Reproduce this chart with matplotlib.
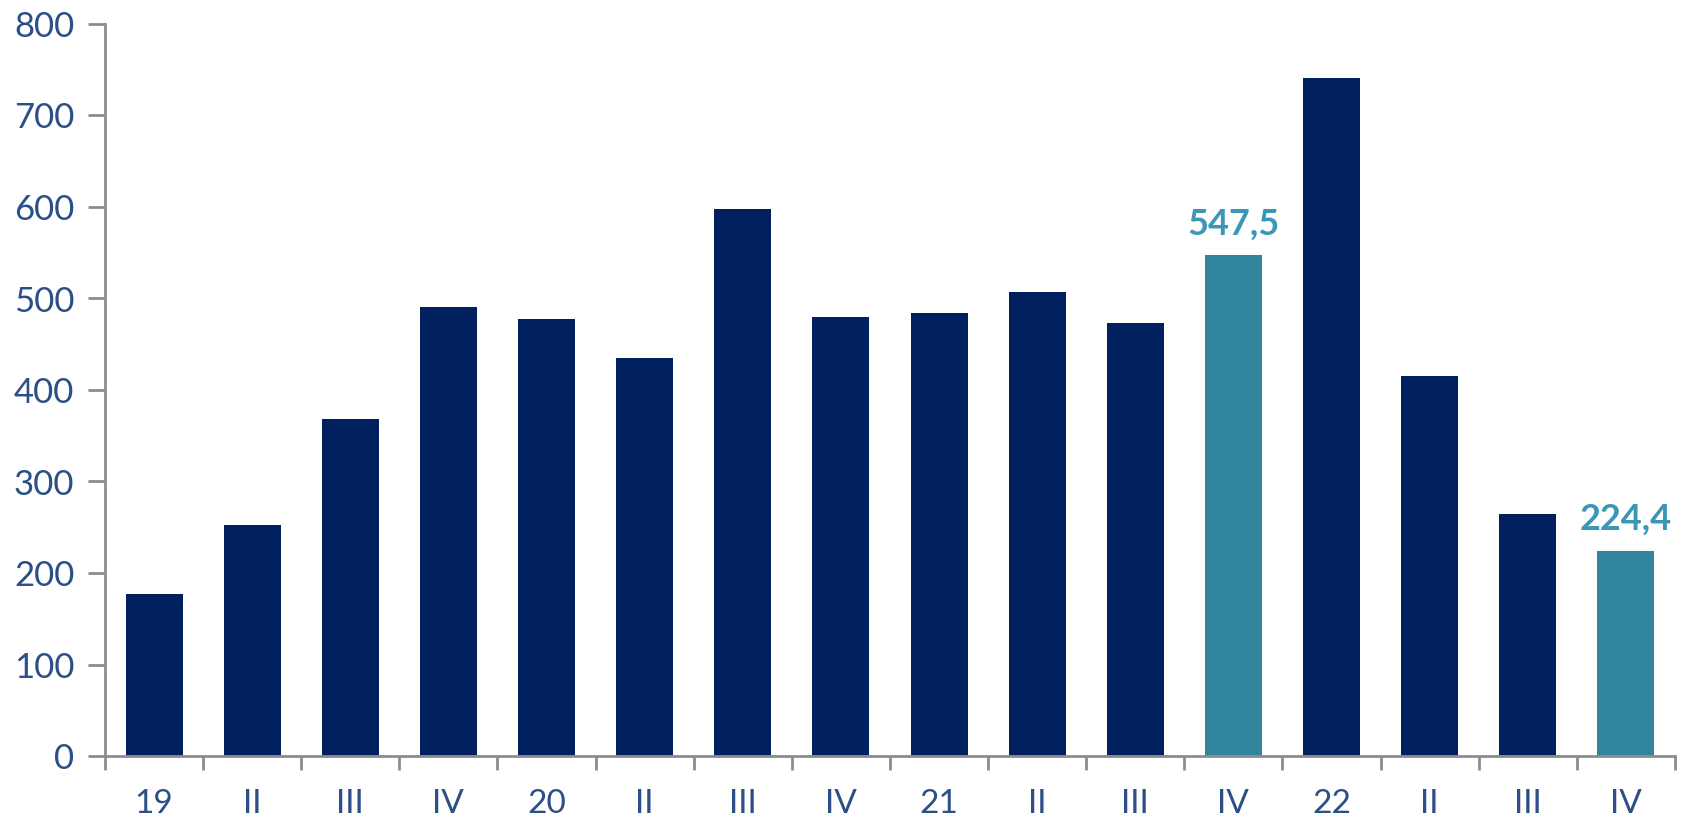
import matplotlib
matplotlib.use("Agg")
import matplotlib.pyplot as plt
import numpy as np

categories = ["19", "II", "III", "IV", "20", "II", "III", "IV", "21", "II", "III", "IV", "22", "II", "III", "IV"]
values = [177, 252, 368, 491, 478, 435, 598, 480, 484, 507, 473, 547.5, 741, 415, 264, 224.4]
highlight = [False]*11 + [True] + [False]*3 + [True]
labels = {11: "547,5", 15: "224,4"}
yticks = [0, 100, 200, 300, 400, 500, 600, 700, 800]

navy = "#00205F"
teal = "#31869E"
label_col = "#3A97B8"
tick_col = "#2B4F86"
axis_col = "#8C8C8C"

plt.rcParams['font.family'] = ['Lato', 'DejaVu Sans']

fig = plt.figure(figsize=(16.83, 8.22), dpi=100)
ax = fig.add_axes([105/1683, 66/822, (1675-105)/1683, (756-24)/822])

x = np.arange(len(categories))
colors = [teal if h else navy for h in highlight]
ax.bar(x, values, width=0.58, color=colors, edgecolor="none")

for i, t in labels.items():
    ax.text(x[i], values[i] + 16, t, ha="center", va="bottom", fontsize=26,
            fontweight="bold", color=label_col)

ax.set_xlim(-0.5, len(categories) - 0.5)
ax.set_ylim(0, 800)
ax.set_yticks(yticks)
ax.set_yticklabels([str(v) for v in yticks])
ax.set_xticks(x)
ax.set_xticklabels(categories)
ax.set_xticks(np.arange(-0.5, len(categories), 1.0), minor=True)

ax.tick_params(axis="y", which="major", length=12, width=2, color=axis_col,
               labelsize=25, labelcolor=tick_col, pad=10)
ax.tick_params(axis="x", which="major", length=0, labelsize=24, labelcolor=tick_col, pad=24)
ax.tick_params(axis="x", which="minor", length=10, width=2, color=axis_col, direction="out")

for s in ["top", "right"]:
    ax.spines[s].set_visible(False)
for s in ["left", "bottom"]:
    ax.spines[s].set_color(axis_col)
    ax.spines[s].set_linewidth(2)

fig.savefig("out.png", dpi=100, facecolor="white")
